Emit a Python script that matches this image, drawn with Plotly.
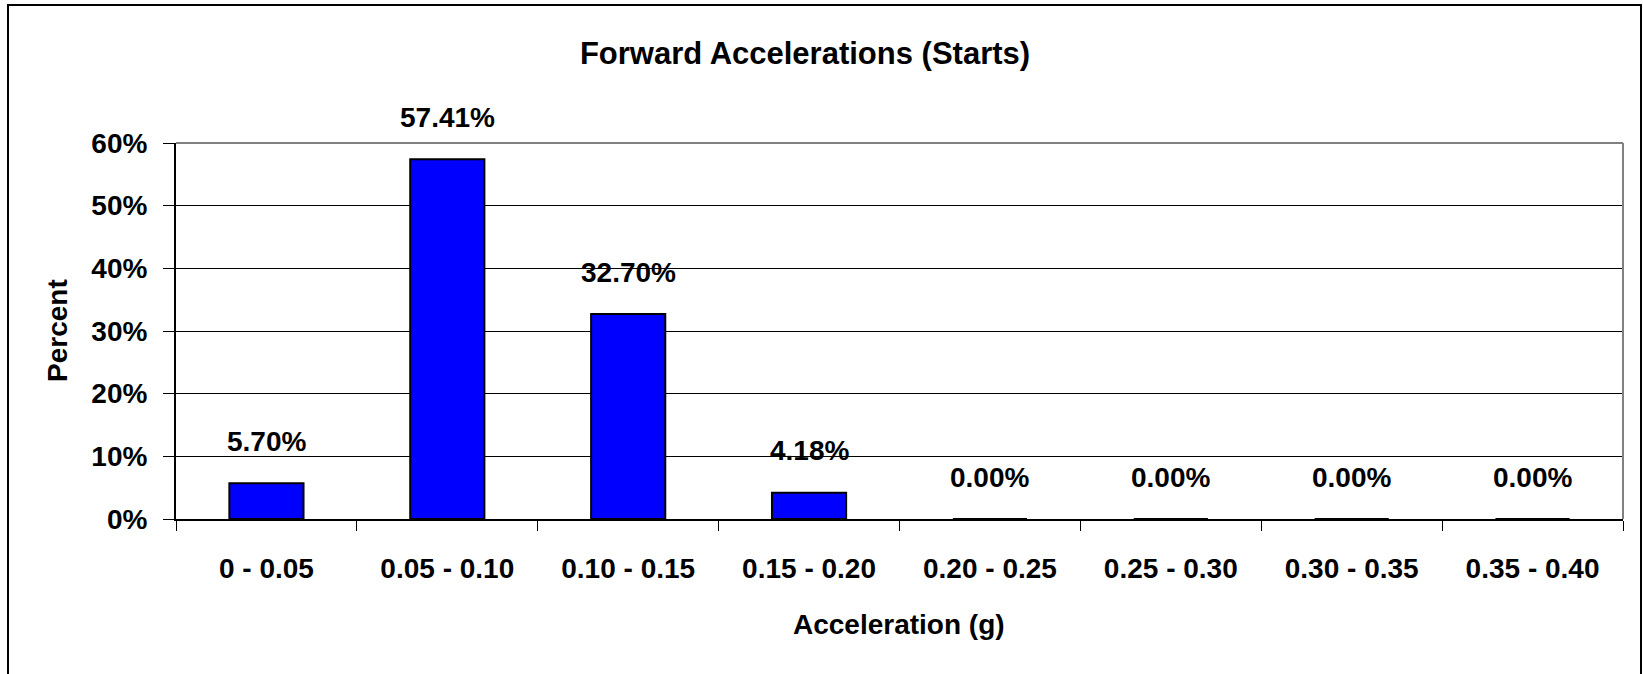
import plotly.graph_objects as go

categories = ["0 - 0.05", "0.05 - 0.10", "0.10 - 0.15", "0.15 - 0.20",
              "0.20 - 0.25", "0.25 - 0.30", "0.30 - 0.35", "0.35 - 0.40"]
percent_values = [5.70, 57.41, 32.70, 4.18, 0.00, 0.00, 0.00, 0.00]
y_ticks = [0, 10, 20, 30, 40, 50, 60]

FONT = "Liberation Sans, Arial, sans-serif"
W, H = 1643, 674
L, R, T, B = 176, 20, 143, 155
pw, ph = W - L - R, H - T - B

def px_x(x):
    return (x - L) / pw

def px_y(y):
    return (H - B - y) / ph

fig = go.Figure()
fig.add_trace(go.Bar(
    x=categories, y=percent_values,
    marker=dict(color="#0000FF", line=dict(color="black", width=2)),
    width=0.41, hoverinfo="x+y",
))

annotations = []
for c, v in zip(categories, percent_values):
    annotations.append(dict(
        x=c, y=v, xref="x", yref="y", text=f"{v:.2f}%", showarrow=False,
        yshift=42, yanchor="middle", xanchor="center",
        font=dict(family=FONT, size=28, color="black", weight="bold"),
    ))
annotations.append(dict(
    x=px_x(899), y=px_y(624), xref="paper", yref="paper", text="Acceleration (g)",
    showarrow=False, xanchor="center", yanchor="middle",
    font=dict(family=FONT, size=28, color="black", weight="bold"),
))
annotations.append(dict(
    x=px_x(57), y=px_y(331), xref="paper", yref="paper", text="Percent",
    showarrow=False, xanchor="center", yanchor="middle", textangle=-90,
    font=dict(family=FONT, size=28, color="black", weight="bold"),
))

shapes = [
    # outer chart border
    dict(type="rect", xref="paper", yref="paper",
         x0=px_x(8), x1=px_x(1641), y0=px_y(676), y1=px_y(5),
         line=dict(color="black", width=2), fillcolor="rgba(0,0,0,0)", layer="below"),
    # plot area top & right border (gray)
    dict(type="line", xref="paper", yref="paper", x0=0, x1=1, y0=1, y1=1,
         line=dict(color="#808080", width=2), layer="above"),
    dict(type="line", xref="paper", yref="paper", x0=1, x1=1, y0=0, y1=1,
         line=dict(color="#808080", width=2), layer="above"),
]

fig.update_layout(
    width=W, height=H, autosize=False,
    margin=dict(l=L, r=R, t=T, b=B, pad=0),
    paper_bgcolor="white", plot_bgcolor="white",
    showlegend=False, bargap=0.59,
    title=dict(text="Forward Accelerations (Starts)", x=805 / W,
               xref="container", y=1 - 53 / H, yref="container",
               xanchor="center", yanchor="middle",
               font=dict(family=FONT, size=31, color="black", weight="bold")),
    annotations=annotations, shapes=shapes,
)
fig.update_xaxes(
    type="category", showline=True, linecolor="black", linewidth=2,
    ticks="outside", tickson="boundaries", ticklen=10, tickcolor="black", tickwidth=1,
    showgrid=False, ticklabelstandoff=23,
    tickfont=dict(family=FONT, size=28, color="black", weight="bold"),
    range=[-0.5, len(categories) - 0.5],
)
fig.update_yaxes(
    range=[0, 60], tickvals=y_ticks, ticktext=[f"{t}%" for t in y_ticks],
    showline=True, linecolor="black", linewidth=2,
    ticks="outside", ticklen=11, tickcolor="black", tickwidth=1,
    showgrid=True, gridcolor="black", gridwidth=1, zeroline=False,
    ticklabelstandoff=10,
    tickfont=dict(family=FONT, size=28, color="black", weight="bold"),
)

fig.write_html(
    "out.html",
    config={"displayModeBar": False},
    post_script="document.body.style.margin='0';document.body.style.overflow='hidden';",
)
